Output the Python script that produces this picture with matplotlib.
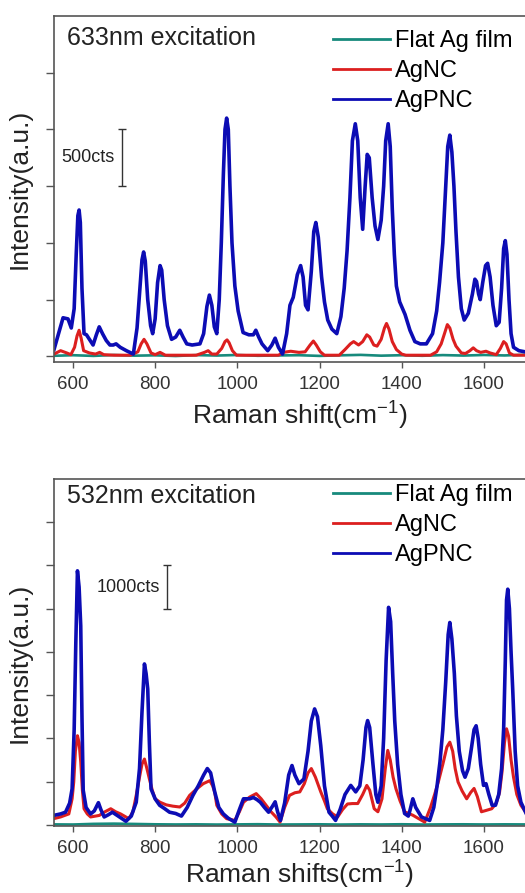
import matplotlib
matplotlib.use("Agg")
import matplotlib.pyplot as plt
from matplotlib.lines import Line2D

plt.rcParams['font.family'] = ['Liberation Sans', 'DejaVu Sans']
plt.rcParams['mathtext.default'] = 'regular'

# --- 633 nm spectra (Raman shift in cm-1, counts) ---
x633_pnc = [554, 565, 576, 588, 596, 603, 608, 612, 615, 618, 622, 627, 633, 640, 649, 657, 664,
            672, 681, 690, 698, 705, 715, 730, 747, 756, 763, 768, 772, 776, 782, 789, 794, 800,
            806, 812, 816, 822, 830, 840, 850, 860, 868, 877, 890, 909, 918, 926, 932, 938, 944,
            950, 956, 961, 966, 970, 974, 978, 982, 987, 994, 1002, 1014, 1028, 1039, 1045, 1052,
            1060, 1074, 1084, 1092, 1100, 1110, 1120, 1128, 1136, 1146, 1154, 1160, 1166, 1172,
            1180, 1186, 1191, 1197, 1205, 1212, 1220, 1230, 1242, 1252, 1260, 1267, 1274, 1280,
            1287, 1293, 1299, 1305, 1311, 1316, 1321, 1328, 1335, 1342, 1350, 1356, 1361, 1367,
            1372, 1377, 1382, 1387, 1395, 1408, 1420, 1432, 1445, 1460, 1475, 1485, 1492, 1500,
            1507, 1512, 1517, 1522, 1527, 1532, 1538, 1545, 1552, 1562, 1572, 1578, 1582, 1587,
            1591, 1597, 1604, 1609, 1615, 1622, 1630, 1637, 1643, 1648, 1652, 1656, 1661, 1666,
            1672, 1685, 1700, 1750]
y633_pnc = [60, 200, 340, 330, 250, 420, 900, 1240, 1290, 1180, 600, 200, 190, 150, 100, 190, 260,
            200, 140, 100, 100, 110, 80, 50, 20, 250, 600, 850, 920, 840, 500, 270, 200, 330,
            650, 800, 760, 500, 270, 150, 170, 230, 170, 110, 100, 110, 200, 440, 540, 450, 260,
            200, 500, 1000, 1600, 2000, 2100, 2000, 1500, 1000, 620, 400, 210, 190, 190, 230, 170,
            110, 50, 100, 160, 80, 20, 200, 450, 520, 720, 800, 700, 450, 410,
            750, 1100, 1180, 1050, 700, 480, 320, 240, 200, 350, 600, 930, 1400, 1900,
            2050, 1900, 1400, 1120, 1500, 1780, 1750, 1400, 1150, 1030, 1200, 1500, 1900, 2050,
            1850, 1300, 900, 620, 480, 370, 230, 130, 110, 110, 200, 400, 650, 1000,
            1500, 1850, 1950, 1800, 1500, 1100, 700, 420, 320, 380, 550, 680, 660, 550,
            500, 650, 800, 820, 700, 450, 270, 300, 600, 950, 1020, 900, 500, 200,
            80, 50, 40, 35]

x633_nc = [554, 570, 585, 595, 604, 610, 615, 620, 626, 640, 655, 665, 675, 700, 740, 758, 766,
           773, 780, 790, 800, 812, 825, 900, 920, 929, 938, 950, 962, 970, 975, 980, 988, 998,
           1100, 1112, 1130, 1150, 1165, 1177, 1185, 1192, 1202, 1212, 1248, 1262, 1275, 1283,
           1295, 1305, 1315, 1322, 1332, 1340, 1350, 1358, 1363, 1369, 1377, 1387, 1400, 1410,
           1470, 1485, 1496, 1504, 1511, 1517, 1525, 1532, 1545, 1555, 1566, 1574, 1582, 1592,
           1605, 1615, 1630, 1640, 1648, 1654, 1662, 1672, 1750]
y633_nc = [20, 50, 30, 15, 80, 180, 230, 160, 50, 30, 20, 35, 15, 10, 10, 40, 110,
           150, 110, 30, 15, 35, 10, 10, 35, 50, 20, 20, 70, 130, 145, 120, 50, 10,
           10, 35, 45, 35, 40, 100, 135, 100, 40, 10, 10, 60, 110, 130,
           100, 130, 190, 170, 100, 90, 150, 250, 290, 240, 130, 60, 20, 10,
           10, 40, 110, 200, 280, 250, 150, 90, 30, 25, 50, 75, 50, 35,
           45, 30, 15, 70, 130, 110, 30, 10, 10]

x633_flat = [554, 600, 650, 700, 750, 800, 850, 900, 950, 1000, 1050, 1100, 1150, 1200, 1250,
             1300, 1350, 1400, 1450, 1500, 1550, 1600, 1650, 1700, 1750]
y633_flat = [5, 10, 4, 12, 6, 9, 3, 11, 7, 12, 5, 8, 10, 4, 9, 13, 6, 10, 5, 11, 7, 12, 8, 14, 10]

# --- 532 nm spectra ---
x532_pnc = [553, 570, 582, 592, 598, 603, 607, 611, 615, 619, 622, 625, 632, 643, 652, 662, 668,
            676, 686, 696, 710, 729, 742, 754, 762, 768, 774, 778, 782, 786, 790, 800, 811, 822,
            835, 850, 864, 878, 892, 905, 918, 927, 935, 945, 955, 966, 978, 994, 1005, 1015,
            1030, 1039, 1048, 1056, 1066, 1076, 1085, 1092, 1098, 1105, 1115, 1125, 1133, 1140,
            1150, 1162, 1172, 1180, 1188, 1195, 1203, 1212, 1223, 1231, 1239, 1250, 1262, 1276,
            1288, 1298, 1306, 1313, 1317, 1322, 1330, 1337, 1342, 1350, 1356, 1362, 1368, 1373,
            1378, 1383, 1390, 1398, 1407, 1416, 1420, 1427, 1434, 1448, 1468, 1478, 1486, 1493,
            1500, 1507, 1513, 1517, 1522, 1528, 1533, 1540, 1548, 1554, 1562, 1570, 1576, 1581,
            1586, 1592, 1599, 1605, 1612, 1620, 1628, 1636, 1643, 1648, 1652, 1655, 1658, 1662,
            1666, 1670, 1676, 1682, 1690, 1705, 1720, 1750]
y532_pnc = [215, 250, 290, 500, 830, 2200, 4200, 5875, 5500, 4600, 2500, 800, 400, 250, 320, 510, 350,
            180, 230, 290, 200, 80, 200, 520, 1300, 2600, 3720, 3500, 3140, 1900, 830, 600, 450, 380,
            290, 260, 200, 400, 680, 900, 1150, 1300, 1200, 760, 400, 250, 150, 60, 350, 600,
            600, 630, 580, 520, 400, 290, 420, 530, 300, 100, 500, 1150, 1370, 1150,
            950, 1060, 1700, 2400, 2680, 2500, 1830, 900, 290, 200, 100, 350, 700, 910,
            760, 900, 1500, 2250, 2410, 2250, 1400, 700, 520, 900, 2000, 3800, 5030, 4700,
            3500, 2400, 1400, 700, 260, 200, 330, 600, 400, 180, 100, 400, 900, 1450,
            2200, 3300, 4400, 4680, 4300, 3500, 2520, 1700, 1250, 1100, 1300, 1800, 2200, 2290,
            2000, 1400, 910, 950, 700, 450, 450, 700, 1300, 2220, 3800, 5200, 5450, 5000,
            4000, 3140, 1700, 900, 520, 215, 150, 120]

x532_nc = [553, 570, 590, 598, 602, 606, 611, 615, 619, 623, 627, 635, 643, 655, 664, 678, 692,
           704, 716, 736, 746, 754, 762, 768, 774, 780, 786, 793, 800, 812, 827, 843, 860, 872,
           884, 900, 917, 933, 940, 945, 950, 962, 974, 994, 1005, 1015, 1030, 1046, 1058, 1070,
           1082, 1094, 1104, 1115, 1127, 1140, 1152, 1163, 1172, 1180, 1190, 1203, 1212, 1219,
           1232, 1244, 1256, 1268, 1280, 1293, 1305, 1315, 1322, 1333, 1342, 1352, 1360, 1366,
           1372, 1379, 1386, 1396, 1407, 1427, 1445, 1456, 1470, 1480, 1489, 1500, 1510, 1517,
           1524, 1530, 1537, 1547, 1558, 1568, 1576, 1584, 1594, 1605, 1619, 1630, 1638, 1644,
           1650, 1655, 1660, 1666, 1672, 1680, 1690, 1705, 1720, 1750]
y532_nc = [140, 180, 250, 600, 990, 1700, 2060, 1900, 1450, 800, 370, 250, 180, 200, 215, 300, 370,
           300, 250, 140, 300, 680, 1100, 1400, 1520, 1300, 1060, 800, 600, 520, 460, 430, 410, 500,
           680, 820, 950, 1020, 900, 750, 450, 250, 140, 100, 300, 520, 640, 720, 600, 450,
           300, 180, 60, 400, 680, 740, 760, 950, 1200, 1300, 1100, 760, 550, 370,
           250, 180, 350, 480, 490, 490, 700, 910, 800, 370, 300, 600, 1300, 1720,
           1500, 1100, 830, 550, 300, 220, 120, 60, 400, 700, 990, 1400, 1800, 1910,
           1700, 1300, 990, 780, 600, 750, 840, 650, 300, 330, 370, 500, 750, 1220,
           1900, 2220, 2050, 1500, 1100, 700, 450, 250, 180, 150]

x532_flat = [553, 600, 650, 700, 750, 800, 850, 900, 950, 1000, 1050, 1100, 1150, 1200, 1250,
             1300, 1350, 1400, 1450, 1500, 1550, 1600, 1650, 1700, 1750]
y532_flat = [8, 5, 20, 25, 18, 10, 6, 9, 4, 8, 12, 5, 7, 10, 4, 9, 6, 11, 5, 8, 10, 6, 9, 7, 8]

labels = ['Flat Ag film', 'AgNC', 'AgPNC']
colors = ['#178a7c', '#dc1f1f', '#0c0cb4']
widths = [1.9, 2.2, 2.6]

fig = plt.figure(figsize=(5.25, 8.93), dpi=100)
ax1 = fig.add_axes([0.1029, 0.5946, 0.9363, 0.3875])
ax2 = fig.add_axes([0.1029, 0.0750, 0.9363, 0.3886])

panels = [
    (ax1, [(x633_flat, y633_flat), (x633_nc, y633_nc), (x633_pnc, y633_pnc)],
     (-50, 3000), 500, '633nm excitation', 0.935, 0.959,
     'Raman shift(cm$^{-1}$)', 5, (719, 1500, 2000), '500cts'),
    (ax2, [(x532_flat, y532_flat), (x532_nc, y532_nc), (x532_pnc, y532_pnc)],
     (-30, 8000), 1000, '532nm excitation', 0.95, 0.985,
     'Raman shifts(cm$^{-1}$)', 1, (828, 5000, 6000), '1000cts'),
]

for ax, series, ylim, ystep, title, title_y, leg_y, xlabel, xpad, bar, bar_text in panels:
    for (xs, ys), c, lw in zip(series, colors, widths):
        ax.plot(xs, ys, color=c, lw=lw, solid_joinstyle='round')
    ax.set_xlim(554, 1750)
    ax.set_ylim(*ylim)
    ax.set_xticks(range(600, 1700, 200))
    ax.set_yticks(range(0, int(ylim[1]), ystep))
    ax.set_yticklabels([])
    ax.tick_params(axis='x', direction='out', length=4, width=1, pad=6,
                   labelsize=13.5, colors='#555555', labelcolor='#333333')
    ax.tick_params(axis='y', direction='out', length=6, width=1, colors='#555555')
    for s in ax.spines.values():
        s.set_color('#555555')
        s.set_linewidth(1.2)

    ax.set_ylabel('Intensity(a.u.)', fontsize=19, color='#222222')
    ax.set_xlabel(xlabel, fontsize=19, color='#222222', labelpad=xpad)

    ax.text(0.026, title_y, title, transform=ax.transAxes, fontsize=18,
            va='center', ha='left', color='#222222')

    # scale bar with its count label
    bx, b0, b1 = bar
    ax.errorbar([bx], [(b0 + b1) / 2], yerr=[(b1 - b0) / 2], color='#333333',
                lw=1, capsize=3, capthick=1)
    ax.text(bx - 17, (b0 + b1) / 2, bar_text, fontsize=13,
            ha='right', va='center', color='#222222')

    handles = [Line2D([], [], color=c, lw=2) for c in colors]
    ax.legend(handles, labels, frameon=False, loc='upper left',
              bbox_to_anchor=(0.568, leg_y), handlelength=2.4, handletextpad=0.2,
              labelspacing=0.34, borderpad=0, borderaxespad=0, fontsize=17)

ax1.yaxis.set_label_coords(-0.045, 0.5)
ax2.yaxis.set_label_coords(-0.045, 0.47)

fig.savefig('out.png', dpi=100)
